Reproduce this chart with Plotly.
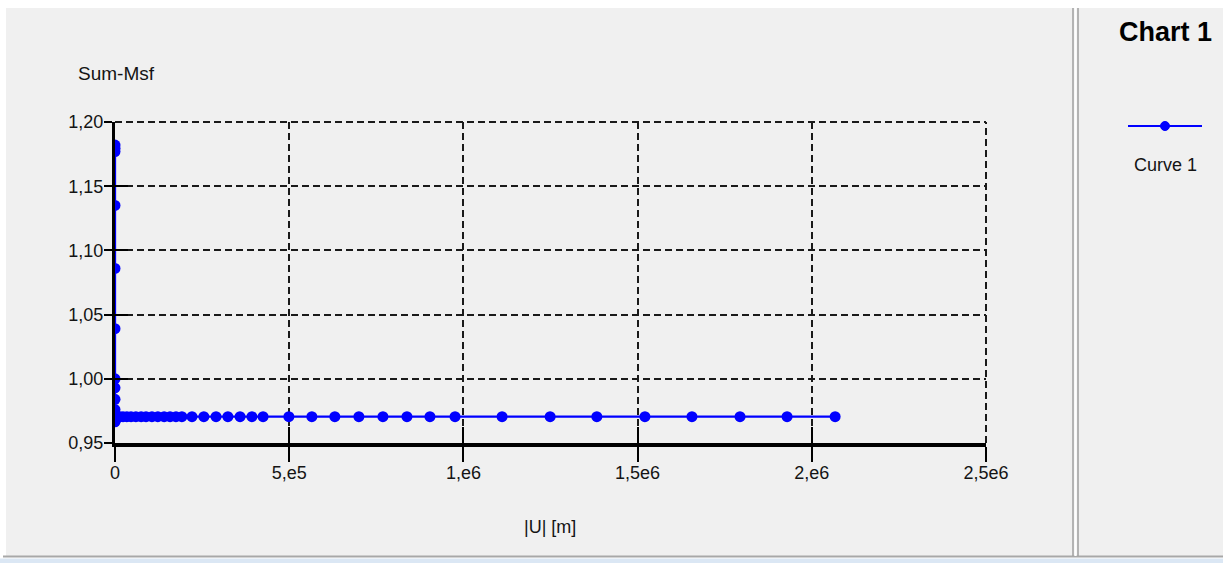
import plotly.graph_objects as go

# ---------------- data ----------------
disp_m = [0, 0, 0, 0, 0, 0, 0, 0, 0, 0, 0, 0, 0,
          2000, 4000, 6000,
          14000, 23000, 34000, 46000, 60000, 75000, 89000, 106000, 123000,
          141000, 158000, 175000, 192000,
          221000, 255000, 290000, 324000, 359000, 393000, 425000,
          499000, 565000, 631000, 700000, 769000, 838000, 904000, 976000,
          1111000, 1249000, 1383000, 1521000, 1656000, 1794000, 1929000, 2067000]
sum_msf = [1.182, 1.1795, 1.177, 1.135, 1.086, 1.039, 1.000, 0.993, 0.984, 0.976, 0.972, 0.969, 0.9665,
           0.968, 0.970, 0.9705,
           0.9705, 0.9705, 0.9705, 0.9705, 0.9705, 0.9705, 0.9705, 0.9705, 0.9705,
           0.9705, 0.9705, 0.9705, 0.9705,
           0.9705, 0.9705, 0.9705, 0.9705, 0.9705, 0.9705, 0.9705,
           0.9705, 0.9705, 0.9705, 0.9705, 0.9705, 0.9705, 0.9705, 0.9705,
           0.9705, 0.9705, 0.9705, 0.9705, 0.9705, 0.9705, 0.9705, 0.9705]

x_tickvals = [0, 500000, 1000000, 1500000, 2000000, 2500000]
x_ticktext = ["0", "5,e5", "1,e6", "1,5e6", "2,e6", "2,5e6"]
y_tickvals = [0.95, 1.00, 1.05, 1.10, 1.15, 1.20]
y_ticktext = ["0,95", "1,00", "1,05", "1,10", "1,15", "1,20"]
series_name = "Curve 1"
chart_title = "Chart 1"
x_title = "|U| [m]"
y_title = "Sum-Msf"

# ---------------- layout geometry ----------------
W, H = 1223, 563
L, R, T, B = 115, 986, 122, 443
FONT = "Liberation Sans, Arial, sans-serif"
BLUE = "#0000ff"
BG = "#f0f0f0"
TXT = "#141414"


def fx(p):
    return (p - L) / (R - L)


def fy(p):
    return (B - p) / (B - T)


fig = go.Figure()
fig.add_trace(go.Scatter(
    x=disp_m, y=sum_msf, mode="lines+markers", name=series_name,
    line=dict(color=BLUE, width=2.3),
    marker=dict(color=BLUE, size=11, symbol="circle"),
    showlegend=False,
))
# helper trace for the overlay axes (inside tick marks)
fig.add_trace(go.Scatter(x=[None], y=[None], xaxis="x2", yaxis="y2",
                         showlegend=False, hoverinfo="skip"))

GRIDC = "#1a1a1a"
DASH = "7px,4px"
grid_common = dict(showgrid=True, gridcolor=GRIDC, gridwidth=2, griddash=DASH, zeroline=False)

shapes = [
    # panel background
    dict(type="rect", xref="paper", yref="paper", x0=fx(6), x1=fx(W + 5), y0=fy(556), y1=fy(8),
         fillcolor=BG, line=dict(width=0), layer="below"),
    # bottom border + light blue strip
    dict(type="rect", xref="paper", yref="paper", x0=fx(-5), x1=fx(W + 5), y0=fy(H + 5), y1=fy(558.5),
         fillcolor="#dbe7f4", line=dict(width=0), layer="below"),
    dict(type="line", xref="paper", yref="paper", x0=fx(3), x1=fx(W + 5), y0=fy(556.5), y1=fy(556.5),
         line=dict(color="#a8a8a8", width=2), layer="below"),
    # vertical separator (double line)
    dict(type="line", xref="paper", yref="paper", x0=fx(1073), x1=fx(1073), y0=fy(556), y1=fy(8),
         line=dict(color="#a0a0a0", width=1.5), layer="below"),
    dict(type="line", xref="paper", yref="paper", x0=fx(1075.5), x1=fx(1075.5), y0=fy(556), y1=fy(8),
         line=dict(color="#ffffff", width=2), layer="below"),
    dict(type="line", xref="paper", yref="paper", x0=fx(1078), x1=fx(1078), y0=fy(556), y1=fy(8),
         line=dict(color="#a0a0a0", width=1.5), layer="below"),
    # outer dashed grid lines at the top and right edges of the plot area
    dict(type="line", xref="paper", yref="paper", x0=0, x1=1, y0=1, y1=1,
         line=dict(color=GRIDC, width=2, dash=DASH), layer="below"),
    dict(type="line", xref="paper", yref="paper", x0=1, x1=1, y0=0, y1=1,
         line=dict(color=GRIDC, width=2, dash=DASH), layer="below"),
    # legend symbol
    dict(type="line", xref="paper", yref="paper", x0=fx(1128), x1=fx(1202), y0=fy(126), y1=fy(126),
         line=dict(color=BLUE, width=2)),
    dict(type="circle", xref="paper", yref="paper", x0=fx(1160.5), x1=fx(1169.5), y0=fy(130.5), y1=fy(121.5),
         fillcolor=BLUE, line=dict(color=BLUE, width=1)),
]

annotations = [
    dict(text=y_title, xref="paper", yref="paper", x=fx(116.5), y=fy(73), showarrow=False,
         xanchor="center", yanchor="middle", font=dict(family=FONT, size=19, color=TXT)),
    dict(text=x_title, xref="paper", yref="paper", x=fx(550), y=fy(527), showarrow=False,
         xanchor="center", yanchor="middle", font=dict(family=FONT, size=18, color=TXT)),
    dict(text="<b>" + chart_title + "</b>", xref="paper", yref="paper", x=fx(1165), y=fy(32),
         showarrow=False, xanchor="center", yanchor="middle",
         font=dict(family=FONT, size=27, color="#000000")),
    dict(text=series_name, xref="paper", yref="paper", x=fx(1165), y=fy(165), showarrow=False,
         xanchor="center", yanchor="middle", font=dict(family=FONT, size=18, color=TXT)),
]

fig.update_layout(
    width=W, height=H, autosize=False,
    margin=dict(l=L, r=W - R, t=T, b=H - B, pad=0),
    paper_bgcolor="#ffffff", plot_bgcolor="rgba(0,0,0,0)",
    showlegend=False,
    font=dict(family=FONT, size=18, color=TXT),
    xaxis=dict(range=[0, 2500000], tickmode="array", tickvals=x_tickvals, ticktext=x_ticktext,
               ticks="outside", ticklen=15, tickwidth=2, tickcolor="#000000",
               showline=True, linecolor="#000000", linewidth=4, ticklabelstandoff=-5,
               tickfont=dict(family=FONT, size=18, color=TXT), **grid_common),
    yaxis=dict(range=[0.95, 1.20], tickmode="array", tickvals=y_tickvals, ticktext=y_ticktext,
               ticks="outside", ticklen=8, tickwidth=2, tickcolor="#000000",
               showline=True, linecolor="#000000", linewidth=3, ticklabelstandoff=-3,
               tickfont=dict(family=FONT, size=18, color=TXT), **grid_common),
    xaxis2=dict(range=[0, 2500000], overlaying="x", anchor="y2", side="bottom",
                tickmode="array", tickvals=x_tickvals, ticks="inside", ticklen=16, tickwidth=2,
                tickcolor="#000000", showticklabels=False, showgrid=False, zeroline=False,
                showline=False),
    yaxis2=dict(range=[0.95, 1.20], overlaying="y", anchor="x2", side="left",
                tickmode="array", tickvals=y_tickvals, ticks="inside", ticklen=13, tickwidth=2,
                tickcolor="#000000", showticklabels=False, showgrid=False, zeroline=False,
                showline=False),
    shapes=shapes,
    annotations=annotations,
)

fig.write_html("out.html", config={"displayModeBar": False},
               post_script="document.body.style.margin='0px';")
